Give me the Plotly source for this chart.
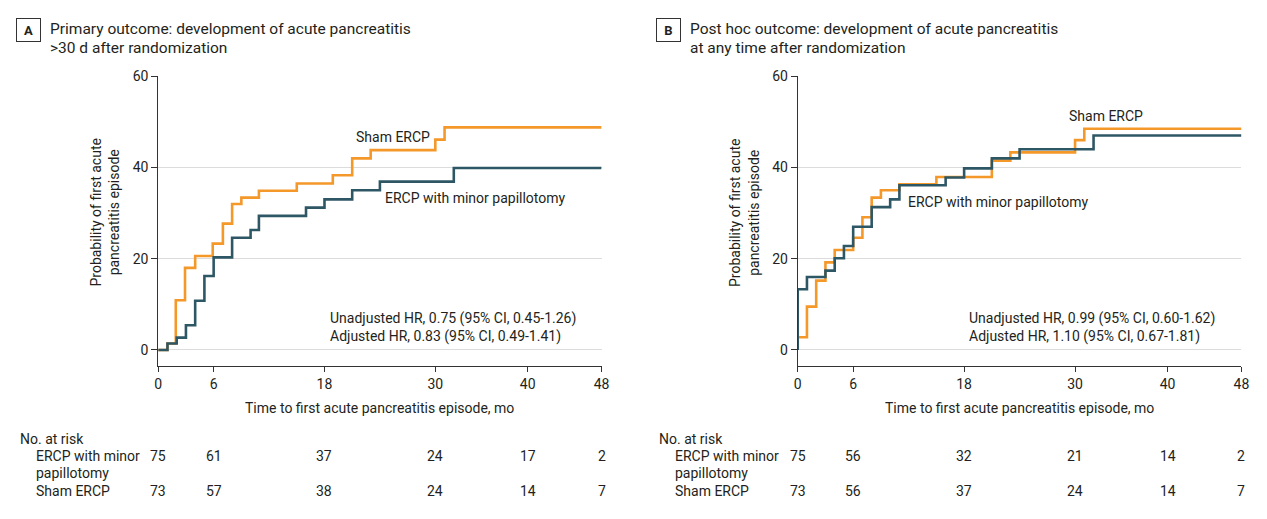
import plotly.graph_objects as go

W, H = 1267, 519

# ---- data (months, cumulative probability %) ----
a_sham_t = [0, 1.0, 1.9, 2.9, 4.0, 5.9, 7.0, 8.0, 9.0, 10.9, 15.0, 18.9, 21.0, 23.0, 30.0, 31.0, 48]
a_sham_p = [0, 1.4, 10.9, 18.0, 20.6, 23.3, 27.7, 32.0, 33.4, 34.9, 36.5, 38.3, 42.0, 43.8, 46.1, 48.8, 48.8]
a_ercp_t = [0, 1.0, 2.0, 3.0, 4.0, 5.0, 6.0, 8.0, 10.0, 10.9, 16.0, 18.0, 21.0, 24.0, 32.0, 48]
a_ercp_p = [0, 1.4, 2.7, 5.4, 10.8, 16.2, 20.3, 24.6, 26.3, 29.4, 31.2, 33.0, 35.0, 36.9, 39.9, 39.9]

b_sham_t = [0, 0, 1.0, 2.0, 3.0, 4.0, 6.0, 7.0, 8.0, 9.0, 11.0, 15.0, 21.0, 23.0, 30.0, 31.0, 48]
b_sham_p = [0, 2.8, 9.5, 15.2, 19.2, 21.9, 24.6, 29.1, 33.4, 35.0, 36.3, 37.9, 41.5, 43.3, 46.0, 48.5, 48.5]
b_ercp_t = [0, 0, 1.0, 3.0, 4.0, 5.0, 6.0, 8.0, 10.0, 11.0, 16.0, 18.0, 21.0, 24.0, 32.0, 48]
b_ercp_p = [0, 13.3, 16.0, 17.4, 20.1, 22.8, 27.0, 31.3, 33.0, 36.1, 37.8, 39.8, 42.0, 44.0, 47.0, 47.0]

risk_times = [0, 6, 18, 30, 40, 48]
a_risk_ercp = [75, 61, 37, 24, 17, 2]
a_risk_sham = [73, 57, 38, 24, 14, 7]
b_risk_ercp = [75, 56, 32, 21, 14, 2]
b_risk_sham = [73, 56, 37, 24, 14, 7]

x_ticks = [0, 6, 18, 30, 40, 48]
y_ticks = [0, 20, 40, 60]

ORANGE = "#F5982A"
TEAL = "#2E5766"
TXT = "#231F20"
FONT = "Roboto"


def px(x):
    return x / W


def py(y):
    return 1 - y / H


fig = go.Figure()

panels = [
    dict(xa="x", ya="y", sham=(a_sham_t, a_sham_p), ercp=(a_ercp_t, a_ercp_p)),
    dict(xa="x2", ya="y2", sham=(b_sham_t, b_sham_p), ercp=(b_ercp_t, b_ercp_p)),
]
for p in panels:
    fig.add_trace(go.Scatter(x=p["sham"][0], y=p["sham"][1], mode="lines", line_shape="hv",
                             line=dict(color=ORANGE, width=2.6), xaxis=p["xa"], yaxis=p["ya"],
                             showlegend=False, hoverinfo="skip"))
    fig.add_trace(go.Scatter(x=p["ercp"][0], y=p["ercp"][1], mode="lines", line_shape="hv",
                             line=dict(color=TEAL, width=2.6), xaxis=p["xa"], yaxis=p["ya"],
                             showlegend=False, hoverinfo="skip"))

ydom = [py(363.3), py(69.3)]
xdomA = [px(155.7), px(603.3)]
xdomB = [px(801.3), px(1249.3)]

axis_common_x = dict(range=[0, 48], tickvals=x_ticks, showgrid=False, zeroline=False,
                     showline=True, linecolor="#333", linewidth=1, ticks="outside",
                     ticklen=5, tickcolor="#333", tickfont=dict(family=FONT, size=14, color=TXT))
axis_common_y = dict(range=[-3.45, 60], tickvals=y_ticks, showgrid=True, gridcolor="#DCDCDC",
                     gridwidth=1, zeroline=False, showline=True, linecolor="#333", linewidth=1,
                     ticks="outside", ticklen=6, tickcolor="#333",
                     tickfont=dict(family=FONT, size=14, color=TXT))

fig.update_layout(
    width=W, height=H, margin=dict(l=0, r=0, t=0, b=0),
    paper_bgcolor="white", plot_bgcolor="white",
    xaxis=dict(domain=xdomA, anchor="y", **axis_common_x),
    yaxis=dict(domain=ydom, anchor="x", **axis_common_y),
    xaxis2=dict(domain=xdomB, anchor="y2", **axis_common_x),
    yaxis2=dict(domain=ydom, anchor="x2", **axis_common_y),
    font=dict(family=FONT, color=TXT),
)

ann = []


def text(x, y, s, size=14, xanchor="left", xref="paper", **kw):
    ann.append(dict(x=x if xref != "paper" else px(x), y=py(y), xref=xref, yref="paper", text=s,
                    showarrow=False, xanchor=xanchor, yanchor="middle",
                    font=dict(family=FONT, size=size, color=TXT), **kw))


panel_info = [
    dict(off=0.0, letter="A", xref="x",
         t1="Primary outcome: development of acute pancreatitis",
         t2=">30 d after randomization",
         sham_lbl=(353, 130.7), ercp_lbl=(383, 192.7),
         hr1="Unadjusted HR, 0.75 (95% CI, 0.45-1.26)",
         hr2="Adjusted HR, 0.83 (95% CI, 0.49-1.41)", hrx=326.7,
         r_ercp=a_risk_ercp, r_sham=a_risk_sham),
    dict(off=645.6, letter="B", xref="x2",
         t1="Post hoc outcome: development of acute pancreatitis",
         t2="at any time after randomization",
         sham_lbl=(1073, 110), ercp_lbl=(911, 197.3),
         hr1="Unadjusted HR, 0.99 (95% CI, 0.60-1.62)",
         hr2="Adjusted HR, 1.10 (95% CI, 0.67-1.81)", hrx=972.7,
         r_ercp=b_risk_ercp, r_sham=b_risk_sham),
]

for pi in panel_info:
    o = pi["off"]
    # panel letter box
    ann.append(dict(x=px(12.5 + o), y=py(22.5), xref="paper", yref="paper", text="<b>" + pi["letter"] + "</b>",
                    showarrow=False, xanchor="left", yanchor="middle", width=17, height=16,
                    bordercolor="#333", borderwidth=1, borderpad=3,
                    font=dict(family=FONT, size=13, color=TXT)))
    text(44.5 + o, 21.7, pi["t1"], size=15.5)
    text(44.5 + o, 40.5, pi["t2"], size=15.5)
    # y title
    ann.append(dict(x=px(101.7 + o), y=py(208), xref="paper", yref="paper",
                    text="Probability of first acute<br>pancreatitis episode", textangle=-90,
                    showarrow=False, xanchor="center", yanchor="middle",
                    font=dict(family=FONT, size=14, color=TXT)))
    # x title
    text(379.5 + o, 406.7, "Time to first acute pancreatitis episode, mo", xanchor="center")
    # series labels
    text(pi["sham_lbl"][0], pi["sham_lbl"][1], "Sham ERCP")
    text(pi["ercp_lbl"][0], pi["ercp_lbl"][1], "ERCP with minor papillotomy")
    text(pi["hrx"], 315, pi["hr1"])
    text(pi["hrx"], 333.3, pi["hr2"])
    # at risk table
    text(14 + o, 437.5, "No. at risk")
    text(30 + o, 455, "ERCP with minor")
    text(30 + o, 472.6, "papillotomy")
    text(30 + o, 490.5, "Sham ERCP")
    for t, v in zip(risk_times, pi["r_ercp"]):
        text(t, 455, str(v), xanchor="center", xref=pi["xref"])
    for t, v in zip(risk_times, pi["r_sham"]):
        text(t, 490.5, str(v), xanchor="center", xref=pi["xref"])

fig.update_layout(annotations=ann)
fig.write_html("out.html", config={"displayModeBar": False},
               post_script="document.body.style.margin='0';document.body.style.overflow='hidden';")
